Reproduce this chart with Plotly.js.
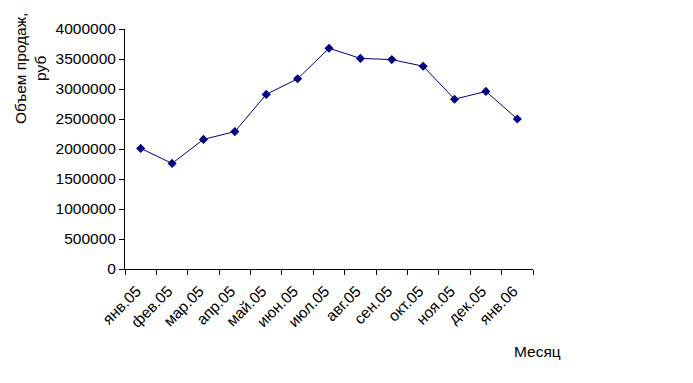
<!DOCTYPE html>
<html>
<head>
<meta charset="utf-8">
<script src="https://cdn.plot.ly/plotly-3.0.1.min.js"></script>
<style>html,body{margin:0;padding:0;background:#fff;}#chart{width:693px;height:383px;}</style>
</head>
<body>
<div id="chart"></div>
<script>
const months = ["янв.05","фев.05","мар.05","апр.05","май.05","июн.05","июл.05","авг.05","сен.05","окт.05","ноя.05","дек.05","янв.06"];
const sales = [2010000,1760000,2160000,2290000,2910000,3170000,3680000,3510000,3490000,3380000,2830000,2960000,2500000];
const yTitle = "Объем продаж,<br>руб";
const xTitle = "Месяц";

const font = {family: "Liberation Sans, Arial, sans-serif", size: 15.5, color: "#000"};

Plotly.newPlot("chart", [{
  x: months, y: sales, type: "scatter", mode: "lines+markers",
  line: {color: "#000080", width: 1},
  marker: {symbol: "diamond", size: 7, color: "#000080"}
}], {
  width: 693, height: 383,
  margin: {l: 125, r: 160, t: 29, b: 114},
  paper_bgcolor: "#fff", plot_bgcolor: "#fff",
  font: font,
  showlegend: false,
  xaxis: {
    type: "category", range: [-0.5, 12.5], tickangle: -45, tickson: "boundaries",
    ticks: "outside", ticklen: 5, tickcolor: "#000",
    ticklabelstandoff: 6, ticklabelshift: -4,
    showline: true, linecolor: "#000", linewidth: 1,
    showgrid: false, zeroline: false, tickfont: font, automargin: false
  },
  yaxis: {
    range: [0, 4000000], dtick: 500000, tick0: 0, tickformat: "d",
    ticks: "outside", ticklen: 5, tickcolor: "#000",
    showline: true, linecolor: "#000", linewidth: 1,
    showgrid: false, zeroline: false, tickfont: font, automargin: false
  },
  annotations: [
    {text: yTitle, xref: "paper", yref: "paper", x: -0.233, y: 0.8375,
     xanchor: "center", yanchor: "middle", textangle: -90, showarrow: false, font: font},
    {text: xTitle, xref: "paper", yref: "paper", x: 1.01, y: -0.342,
     xanchor: "center", yanchor: "middle", showarrow: false, font: font}
  ]
}, {displayModeBar: false, staticPlot: true});
</script>
</body>
</html>
